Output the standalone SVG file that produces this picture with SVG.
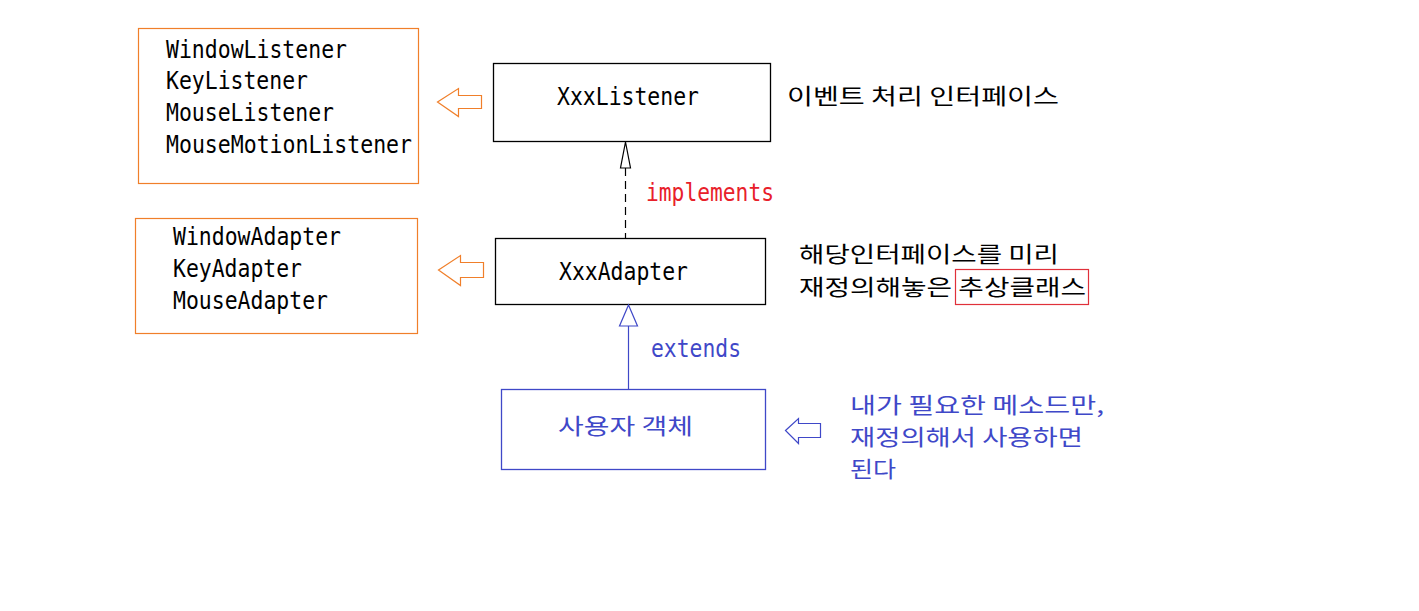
<svg xmlns="http://www.w3.org/2000/svg" width="1419" height="611" viewBox="0 0 1419 611">
<style>
.lat{font-family:"DejaVu Sans Mono","Liberation Mono",monospace;font-size:24px;}
.kor{font-family:"Noto Sans CJK KR","Noto Sans",sans-serif;font-size:22px;}
.blk{fill:#000;}
.blu{fill:#3f48c8;}
.red{fill:#e8202a;}
.box{fill:#fff;stroke:#000;stroke-width:1.3;}
.obox{fill:#fff;stroke:#f07f2a;stroke-width:1.2;}
.bbox{fill:#fff;stroke:#3f48c8;stroke-width:1.3;}
.oarr{fill:#fff;stroke:#f07f2a;stroke-width:1.2;}
.barr{fill:#fff;stroke:#3f48c8;stroke-width:1.2;}
</style>
<rect width="1419" height="611" fill="#fff"/>

<g id="listener-list">
<rect class="obox" x="138.5" y="28.5" width="280" height="155"/>
<text class="lat blk" x="166" y="58" textLength="181" lengthAdjust="spacingAndGlyphs">WindowListener</text>
<text class="lat blk" x="166" y="89" textLength="142" lengthAdjust="spacingAndGlyphs">KeyListener</text>
<text class="lat blk" x="166" y="121" textLength="168" lengthAdjust="spacingAndGlyphs">MouseListener</text>
<text class="lat blk" x="166" y="153" textLength="246" lengthAdjust="spacingAndGlyphs">MouseMotionListener</text>
</g>

<g id="adapter-list">
<rect class="obox" x="135.5" y="218.5" width="282" height="115"/>
<text class="lat blk" x="173" y="245" textLength="168" lengthAdjust="spacingAndGlyphs">WindowAdapter</text>
<text class="lat blk" x="173" y="277" textLength="129" lengthAdjust="spacingAndGlyphs">KeyAdapter</text>
<text class="lat blk" x="173" y="309" textLength="155" lengthAdjust="spacingAndGlyphs">MouseAdapter</text>
</g>

<g id="xxx-listener">
<rect class="box" x="493.5" y="63.5" width="277" height="78"/>
<text class="lat blk" x="557" y="105" textLength="142" lengthAdjust="spacingAndGlyphs">XxxListener</text>
</g>

<g id="xxx-adapter">
<rect class="box" x="495.5" y="238.5" width="270" height="66"/>
<text class="lat blk" x="559" y="280" textLength="129" lengthAdjust="spacingAndGlyphs">XxxAdapter</text>
</g>

<g id="user-object">
<rect class="bbox" x="501.5" y="389.5" width="264" height="80"/>
<text class="kor blu" x="558" y="434" textLength="135" lengthAdjust="spacingAndGlyphs">사용자 객체</text>
</g>

<g id="note-listener">
<text class="kor blk" x="787" y="104" textLength="272" lengthAdjust="spacingAndGlyphs">이벤트 처리 인터페이스</text>
</g>

<g id="note-adapter">
<text class="kor blk" x="799" y="262" textLength="260" lengthAdjust="spacingAndGlyphs">해당인터페이스를 미리</text>
<text class="kor blk" x="799" y="295" textLength="287" lengthAdjust="spacingAndGlyphs">재정의해놓은 추상클래스</text>
<rect x="955.5" y="269.5" width="133" height="35" fill="none" stroke="#e0303a" stroke-width="1.2"/>
</g>

<g id="note-user">
<text class="kor blu" x="850" y="413" textLength="254" lengthAdjust="spacingAndGlyphs">내가 필요한 메소드만,</text>
<text class="kor blu" x="850" y="445" textLength="233" lengthAdjust="spacingAndGlyphs">재정의해서 사용하면</text>
<text class="kor blu" x="850" y="477" textLength="46" lengthAdjust="spacingAndGlyphs">된다</text>
</g>

<g id="connectors">
<line x1="625.5" y1="168" x2="625.5" y2="238" stroke="#000" stroke-width="1.2" stroke-dasharray="8,5"/>
<polygon points="625.5,142 620.5,168 630.5,168" fill="#fff" stroke="#000" stroke-width="1.2"/>
<text class="lat red" x="646" y="201" textLength="128" lengthAdjust="spacingAndGlyphs">implements</text>

<line x1="628.5" y1="326" x2="628.5" y2="390" stroke="#3f48c8" stroke-width="1.2"/>
<polygon points="628.5,305 619.5,326 637.5,326" fill="#fff" stroke="#3f48c8" stroke-width="1.2"/>
<text class="lat blu" x="651" y="357" textLength="90" lengthAdjust="spacingAndGlyphs">extends</text>

<polygon class="oarr" points="437.5,102 458.5,88.5 458.5,95.5 481.5,95.5 481.5,108.5 458.5,108.5 458.5,116.5"/>
<polygon class="oarr" points="438.5,270 460.5,255.5 460.5,262.5 483.5,262.5 483.5,277.5 460.5,277.5 460.5,285.5"/>
<polygon class="barr" points="785.5,430.5 798.5,418.5 798.5,423.5 820.5,423.5 820.5,437.5 798.5,437.5 798.5,443.5"/>
</g>
</svg>
